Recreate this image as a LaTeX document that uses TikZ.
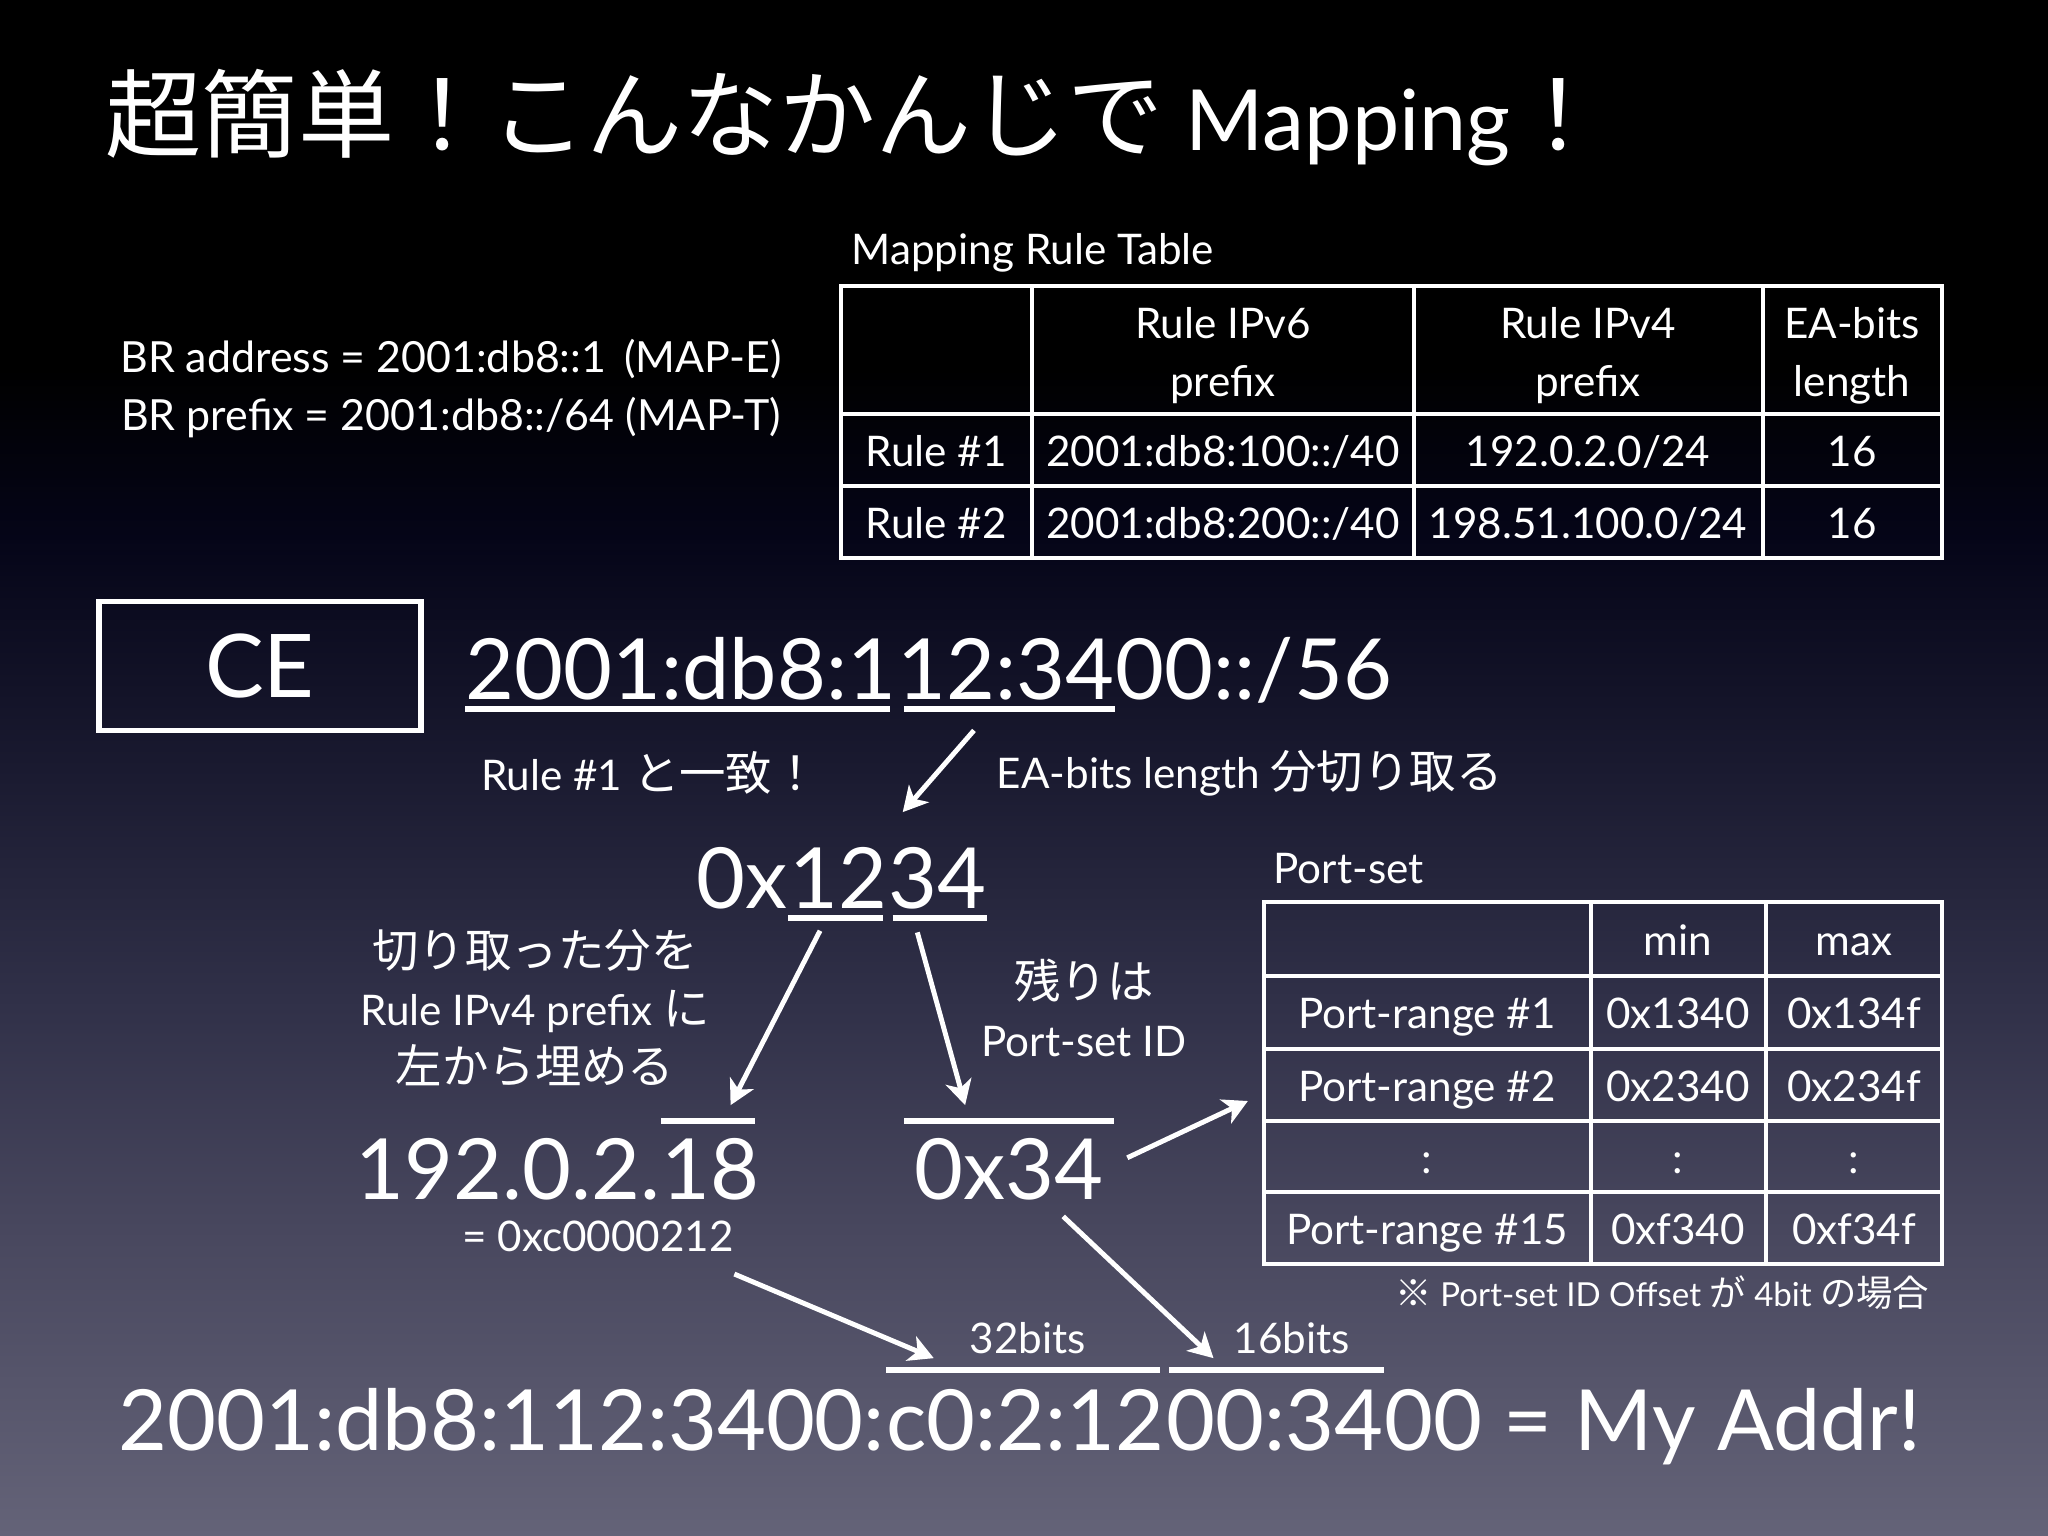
\documentclass[tikz,border=0pt]{standalone}
\usepackage{fontspec}
\setmainfont{Lato}
\newfontfamily\jp{Noto Sans CJK JP}[Scale=1.1]
\newfontfamily\jpT{Noto Sans CJK JP}[Scale=1.14]
\usetikzlibrary{arrows.meta,positioning}
\definecolor{bgtop}{RGB}{0,0,0}
\definecolor{bgnavy}{RGB}{5,5,24}
\definecolor{bgmid}{RGB}{26,26,48}
\definecolor{bgmidlow}{RGB}{48,48,72}
\definecolor{bglow}{RGB}{72,71,94}
\definecolor{bgbot}{RGB}{100,99,120}
\pgfdeclareverticalshading{slidebg}{100bp}{color(0bp)=(bgbot); color(25bp)=(bgbot); color(35bp)=(bglow); color(42.5bp)=(bgmidlow); color(50bp)=(bgmid); color(57.5bp)=(bgnavy); color(63bp)=(bgtop); color(100bp)=(bgtop)}
\newcommand{\szBig}{\fontsize{24}{28}\selectfont}
\newcommand{\szMid}{\fontsize{12}{16.5}\selectfont}
\newcommand{\szSml}{\fontsize{12}{14}\selectfont}
\newcommand{\szNote}{\fontsize{9.4}{11}\selectfont}
\tikzset{>={Stealth[length=7pt,width=7.5pt,inset=2pt]}}

\begin{document}
\begin{tikzpicture}[x=0.01cm, y=-0.01cm, every node/.style={text=white, inner sep=0pt},
        arr/.style={->, white, line width=1.4pt},
        bar/.style={white, line width=1.6pt},
        cell/.style={white, line width=1.1pt},
        celltext/.style={font=\szMid, text height=8.6pt, text depth=0pt}]
            \shade[shading=slidebg] (0,0) rectangle (2048,1536);
            \useasboundingbox (0,0) rectangle (2048,1536);
            % title
            \node[anchor=base west, font=\szBig] (title) at (105,150) {{\jpT 超簡単！こんなかんじで} Mapping{\jpT ！}};
            \node[font=\fontsize{12.2}{16.5}\selectfont, align=center] (br) at (451,389) {BR address = 2001:db8::1\ \,(MAP-E)\\BR prefix = 2001:db8::/64 (MAP-T)};
            % mapping rule table
            \node[anchor=base west, font=\szMid] (rules-title) at (851,264) {Mapping Rule Table};
            \node[draw=white, line width=1.1pt, minimum width=11.01cm, minimum height=2.72cm] (rules) at (1391.5,422) {};
            \draw[cell] (1032,286) -- (1032,558);
            \draw[cell] (1414,286) -- (1414,558);
            \draw[cell] (1763,286) -- (1763,558);
            \draw[cell] (841,414) -- (1942,414);
            \draw[cell] (841,486) -- (1942,486);
            \node[font=\szMid, align=center] (rules-v6) at (1223,356) {Rule IPv6\\prefix};
            \node[font=\szMid, align=center] (rules-v4) at (1588,356) {Rule IPv4\\prefix};
            \node[font=\szMid, align=center] (rules-ea) at (1852,356) {EA-bits\\length};
            \node[celltext] (rule1) at (936,451) {Rule \#1};
            \node[celltext] (rule1-v6) at (1223,451) {2001:db8:100::/40};
            \node[celltext] (rule1-v4) at (1588,451) {192.0.2.0/24};
            \node[celltext] (rule1-ea) at (1852,451) {16};
            \node[celltext] (rule2) at (936,523) {Rule \#2};
            \node[celltext] (rule2-v6) at (1223,523) {2001:db8:200::/40};
            \node[celltext] (rule2-v4) at (1588,523) {198.51.100.0/24};
            \node[celltext] (rule2-ea) at (1852,523) {16};
            % CE and its prefix
            \node[draw=white, line width=1.6pt, minimum width=3.22cm, minimum height=1.29cm, font=\fontsize{25}{28}\selectfont] (ce) at (260,666) {CE};
            \node[anchor=base west, font=\szBig] (pfx-a) at (465,699) {2001:db8:1};
            \node[anchor=base west, font=\szBig] (pfx-b) at (pfx-a.base east) {12:34};
            \node[anchor=base west, font=\szBig] (pfx-c) at (pfx-b.base east) {00::/56};
            \draw[bar] ([yshift=-0.1cm]pfx-a.base west) -- ([xshift=-0.07cm, yshift=-0.1cm]pfx-a.base east);
            \draw[bar] ([xshift=0.07cm, yshift=-0.1cm]pfx-b.base west) -- ([yshift=-0.1cm]pfx-b.base east);
            \node[font=\szMid] (match) at (650,773) {Rule \#1 {\jp と一致！}};
            \node[anchor=west, font=\szMid] (ea) at (996,773) {EA-bits length {\jp 分切り取る}};
            % EA bits
            \node[anchor=base west, font=\szBig] (hex-x) at (696,908) {0x};
            \node[anchor=base west, font=\szBig] (hex-a) at (hex-x.base east) {12};
            \node[anchor=base west, font=\szBig] (hex-b) at (hex-a.base east) {34};
            \draw[bar] ([yshift=-0.1cm]hex-a.base west) -- ([xshift=-0.05cm, yshift=-0.1cm]hex-a.base east);
            \draw[bar] ([xshift=0.05cm, yshift=-0.1cm]hex-b.base west) -- ([yshift=-0.1cm]hex-b.base east);
            \coordinate[below left=0.3cm and 0.32cm of pfx-b.south] (ea-start);
            \coordinate[above right=0.34cm and 0.15cm of hex-b.north west] (ea-end);
            \draw[arr] (ea-start) -- (ea-end);
            \node[font=\szMid, align=center] (fill-note) at (535,1008) {{\jp 切り取った分を}\\Rule IPv4 prefix {\jp に}\\{\jp 左から埋める}};
            \node[font=\szMid, align=center] (rest-note) at (1084,1008) {{\jp 残りは}\\Port-set ID};
            % IPv4 address and PSID
            \node[anchor=base west, font=\szBig] (ip-a) at (355,1199) {192.0.2.};
            \node[anchor=base west, font=\szBig] (ip-b) at (ip-a.base east) {18};
            \draw[bar] ([yshift=0.78cm]ip-b.base west) -- ([xshift=-0.05cm, yshift=0.78cm]ip-b.base east);
            \node[anchor=base, font=\szSml] (ip-hex) at (598,1251) {= 0xc0000212};
            \node[anchor=base west, font=\szBig] (psid) at (914,1199) {0x34};
            \draw[bar] ([xshift=-0.1cm, yshift=0.78cm]psid.base west) -- ([xshift=0.1cm, yshift=0.78cm]psid.base east);
            \coordinate[below left=0.22cm and 0.18cm of hex-a.south] (fill-start);
            \coordinate[above right=0.32cm and 0.2cm of ip-b.north] (fill-end);
            \draw[arr] (fill-start) -- (fill-end);
            \coordinate[below left=0.23cm and 0.2cm of hex-b.south] (rest-start);
            \coordinate[above left=0.32cm and 0.44cm of psid.north] (rest-end);
            \draw[arr] (rest-start) -- (rest-end);
            % port-set table
            \node[anchor=base west, font=\szMid] (ports-title) at (1273,883) {Port-set};
            \node[draw=white, line width=1.1pt, minimum width=6.78cm, minimum height=3.62cm] (ports) at (1603,1083) {};
            \draw[cell] (1591,902) -- (1591,1264);
            \draw[cell] (1766,902) -- (1766,1264);
            \draw[cell] (1264,976) -- (1942,976);
            \draw[cell] (1264,1049) -- (1942,1049);
            \draw[cell] (1264,1121) -- (1942,1121);
            \draw[cell] (1264,1192) -- (1942,1192);
            \node[celltext] (ports-min) at (1678,940) {min};
            \node[celltext] (ports-max) at (1854,940) {max};
            \node[celltext] (range1) at (1427,1013) {Port-range \#1};
            \node[celltext] (range1-min) at (1678,1013) {0x1340};
            \node[celltext] (range1-max) at (1854,1013) {0x134f};
            \node[celltext] (range2) at (1427,1086) {Port-range \#2};
            \node[celltext] (range2-min) at (1678,1086) {0x2340};
            \node[celltext] (range2-max) at (1854,1086) {0x234f};
            \node[celltext] (gap) at (1427,1158) {:};
            \node[celltext] (gap-min) at (1678,1158) {:};
            \node[celltext] (gap-max) at (1854,1158) {:};
            \node[celltext] (range15) at (1427,1229) {Port-range \#15};
            \node[celltext] (range15-min) at (1678,1229) {0xf340};
            \node[celltext] (range15-max) at (1854,1229) {0xf34f};
            \node[anchor=base east, font=\szNote] (offset-note) at (1930,1306) {{\jp ※} Port-set ID Offset {\jp が} 4bit {\jp の場合}};
            \coordinate[above right=0.11cm and 0.23cm of psid.east] (psid-out);
            \coordinate[below left=0.18cm and 0.14cm of ports.west] (ports-in);
            \draw[arr] (psid-out) -- (ports-in);
            % resulting address
            \node[anchor=base west, font=\szBig] (addr-a) at (118,1450) {2001:db8:112:3400:};
            \node[anchor=base west, font=\szBig] (addr-b) at (addr-a.base east) {c0:2:12};
            \node[anchor=base west, font=\szBig] (addr-c) at (addr-b.base east) {00:34};
            \node[anchor=base west, font=\szBig] (addr-d) at (addr-c.base east) {00 = My Addr!};
            \draw[bar] ([yshift=0.8cm]addr-b.base west) -- ([xshift=-0.05cm, yshift=0.8cm]addr-b.base east);
            \draw[bar] ([xshift=0.04cm, yshift=0.8cm]addr-c.base west) -- ([yshift=0.8cm]addr-c.base east);
            \node[font=\szSml, above=0.34cm of addr-b.north, xshift=0.02cm] (bits32) {32bits};
            \node[font=\szSml, above=0.34cm of addr-c.north, xshift=0.17cm] (bits16) {16bits};
            \coordinate[below=0.22cm of ip-hex.south east] (v4-out);
            \coordinate[above right=0.3cm and 0.48cm of addr-b.north west] (v4-in);
            \draw[arr] (v4-out) -- (v4-in);
            \coordinate[below right=0.16cm and 0.54cm of psid.south] (psid-down);
            \coordinate[above right=0.3cm and 0.48cm of addr-c.north west] (psid-in);
            \draw[arr] (psid-down) -- (psid-in);
        \end{tikzpicture}
\end{document}
